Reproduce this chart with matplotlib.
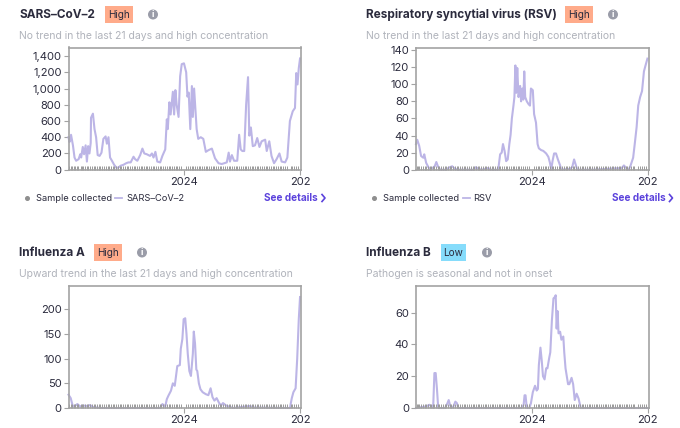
import matplotlib.pyplot as plt
from matplotlib.patches import Circle, Rectangle

plt.rcParams['font.family'] = ['Inter', 'DejaVu Sans']

# x values are days since 2023-01-01
sars_days = [0, 3, 8, 14, 19, 24, 32, 37, 40, 45, 49, 54, 58, 62, 66, 70, 71, 77, 82, 87, 92, 98, 104, 110, 117,
             121, 126, 131, 137, 144, 152, 158, 165, 173, 182, 189, 196, 205, 210, 217, 226, 233, 239, 247, 257,
             263, 268, 274, 280, 289, 296, 305, 310, 313, 318, 322, 329, 333, 337, 341, 347, 352, 357, 364, 371,
             375, 379, 384, 389, 392, 396, 400, 404, 409, 417, 425, 433, 441, 452, 462, 473, 483, 499, 505, 509,
             515, 522, 532, 538, 543, 548, 554, 560, 566, 570, 575, 581, 588, 595, 602, 609, 620, 625, 633, 640,
             648, 656, 665, 672, 683, 690, 698, 707, 714, 718, 722, 726, 730]
sars_vals = [400, 340, 430, 300, 150, 110, 130, 190, 150, 280, 190, 300, 100, 290, 200, 330, 640, 690, 500, 400,
             180, 170, 210, 380, 410, 320, 400, 150, 110, 60, 20, 30, 50, 60, 80, 90, 90, 160, 130, 110, 180, 260,
             200, 190, 170, 200, 150, 220, 100, 90, 170, 250, 620, 500, 830, 680, 960, 680, 980, 800, 650, 1150,
             1300, 1310, 1200, 900, 950, 500, 1030, 650, 1000, 750, 500, 380, 400, 380, 220, 240, 260, 140, 80, 70,
             90, 210, 100, 180, 110, 110, 430, 250, 230, 230, 800, 1140, 420, 520, 290, 300, 390, 280, 350, 370,
             230, 350, 170, 80, 130, 200, 100, 90, 150, 600, 720, 760, 1190, 1050, 1250, 1370]

rsv_days = [0, 4, 10, 16, 23, 26, 32, 39, 46, 52, 59, 64, 69, 76, 95, 102, 107, 114, 123, 133, 181, 189, 196, 207,
            228, 233, 259, 265, 270, 274, 279, 284, 289, 294, 298, 302, 307, 310, 313, 316, 319, 323, 328, 331, 335,
            338, 341, 344, 349, 354, 359, 362, 368, 372, 378, 383, 387, 394, 401, 410, 417, 422, 426, 430, 435, 441,
            447, 454, 457, 485, 492, 498, 503, 508, 559, 648, 655, 662, 670, 676, 684, 689, 695, 700, 706, 712, 718,
            723, 729]
rsv_vals = [30, 35, 28, 16, 14, 18, 8, 3, 0, 2, 4, 9, 4, 0, 0, 2, 3, 4, 1, 0, 0, 3, 1, 0, 2, 0, 0, 18, 20, 30, 22,
            10, 12, 30, 41, 60, 75, 85, 122, 90, 119, 85, 98, 80, 95, 82, 115, 85, 80, 77, 75, 95, 93, 65, 55, 30,
            25, 23, 22, 19, 15, 8, 0, 10, 19, 19, 12, 5, 0, 1, 3, 12, 6, 0, 0, 2, 5, 2, 0, 5, 14, 30, 50, 75, 85,
            92, 115, 122, 130]

flu_a_days = [0, 7, 13, 18, 28, 37, 45, 60, 68, 77, 100, 289, 296, 305, 310, 315, 323, 329, 335, 343, 351, 354, 359,
              363, 368, 372, 376, 381, 386, 392, 395, 399, 403, 406, 411, 416, 423, 433, 441, 448, 454, 460, 467,
              475, 481, 487, 497, 509, 520, 572, 583, 693, 698, 704, 709, 716, 721, 726, 730]
flu_a_vals = [27, 20, 5, 3, 8, 3, 5, 4, 6, 2, 0, 0, 8, 3, 18, 25, 35, 50, 45, 85, 87, 120, 140, 180, 182, 150, 110,
              75, 65, 110, 155, 130, 78, 75, 50, 38, 32, 28, 26, 40, 22, 15, 20, 10, 5, 10, 5, 2, 0, 4, 1, 0, 0, 20,
              32, 40, 100, 180, 225]

flu_b_days = [0, 32, 42, 49, 54, 58, 62, 66, 70, 92, 99, 103, 107, 112, 118, 124, 129, 133, 333, 339, 342, 345, 349,
              357, 362, 368, 375, 380, 384, 387, 392, 396, 400, 405, 410, 414, 420, 423, 428, 433, 438, 440, 443,
              446, 449, 454, 458, 464, 467, 471, 479, 483, 490, 495, 500, 506, 512, 519, 730]
flu_b_vals = [0, 1, 2, 1, 0, 22, 22, 12, 0, 0, 3, 5, 2, 0, 1, 4, 3, 0, 0, 2, 8, 8, 0, 0, 3, 10, 14, 11, 12, 27, 38,
              30, 20, 18, 25, 25, 32, 35, 55, 69, 70, 71, 50, 61, 47, 48, 43, 45, 35, 25, 15, 15, 19, 15, 5, 9, 6,
              0, 0]

sample_days = [2, 7, 11, 16, 22, 27, 31, 38, 43, 47, 53, 58, 63, 68, 74, 79, 84, 90, 96, 100, 106, 111, 117, 123,
               128, 133, 139, 145, 150, 155, 161, 166, 172, 178, 183, 189, 194, 199, 205, 211, 216, 222, 227, 232,
               238, 244, 249, 254, 260, 266, 271, 277, 283, 288, 293, 299, 304, 310, 316, 321, 326, 332, 338, 343,
               349, 355, 372, 377, 383, 388, 394, 399, 405, 410, 416, 421, 427, 433, 438, 444, 449, 455, 460, 466,
               472, 477, 482, 488, 494, 499, 505, 510, 516, 522, 527, 532, 538, 544, 549, 555, 560, 566, 571, 577,
               583, 588, 594, 599, 605, 610, 616, 622, 627, 632, 638, 644, 649, 655, 660, 666, 671, 677, 683, 688,
               700, 706, 712, 718, 723]

titles = ['SARS\u2013CoV\u20132', 'Respiratory syncytial virus (RSV)', 'Influenza A', 'Influenza B']
subtitles = ['No trend in the last 21 days and high concentration',
             'No trend in the last 21 days and high concentration',
             'Upward trend in the last 21 days and high concentration',
             'Pathogen is seasonal and not in onset']
levels = ['High', 'High', 'High', 'Low']
legend_names = ['SARS\u2013CoV\u20132', 'RSV', None, None]
y_ticks = [[0, 200, 400, 600, 800, 1000, 1200, 1400], [0, 20, 40, 60, 80, 100, 120, 140],
           [0, 50, 100, 150, 200], [0, 20, 40, 60]]
y_tops = [1505, 143, 248, 77]
x_ticks = [365, 730]
x_tick_labels = ['2024', '202']
all_days = [sars_days, rsv_days, flu_a_days, flu_b_days]
all_vals = [sars_vals, rsv_vals, flu_a_vals, flu_b_vals]

W, H = 680, 428
LEVEL_COLORS = {'High': '#ffab8a', 'Low': '#86dcfb'}
TEXT = '#2b2b3d'
GREY = '#b0b3bb'
LINE = '#bcb5e6'
AXIS = '#a3a3a3'
LINK = '#5b42dc'

# pixel layout: text left, axes left/right/top/bottom, badge left/right, icon x, title y
layout = [
    (19, 68.5, 301, 47.5, 169.7, 105, 133, 153, 15),
    (366.5, 416, 648.7, 47.5, 169.7, 565, 593, 613, 15),
    (19, 68.5, 301, 285.7, 408, 94, 122, 142, 253),
    (366.5, 416, 648.7, 285.7, 408, 441, 466, 487, 253),
]

fig = plt.figure(figsize=(W / 100, H / 100), dpi=100)
page = fig.add_axes([0, 0, 1, 1])
page.set_xlim(0, W)
page.set_ylim(H, 0)
page.axis('off')

for i, (tx, left, right, top, bottom, b0, b1, icon, ty) in enumerate(layout):
    ax = fig.add_axes([left / W, 1 - bottom / H, (right - left) / W, (bottom - top) / H])
    ax.plot(all_days[i], all_vals[i], color=LINE, lw=1.5, solid_joinstyle='round', clip_on=False)
    ax.plot(sample_days, [0] * len(sample_days), ls='', marker=2, ms=3.2, mew=0.7, color='#9a9a9a')
    ax.set_xlim(0, 733)
    ax.set_ylim(0, y_tops[i])
    ax.set_xticks(x_ticks)
    ax.set_xticklabels(x_tick_labels)
    ax.set_yticks(y_ticks[i])
    ax.set_yticklabels([f'{v:,}' for v in y_ticks[i]])
    ax.tick_params(labelsize=8, colors=AXIS, labelcolor=TEXT, length=3.5, width=0.8, pad=1.5)
    for spine in ax.spines.values():
        spine.set_color(AXIS)
        spine.set_linewidth(1.2)

    page.text(tx, ty, titles[i], fontsize=8.5, fontweight='bold', color=TEXT, va='center')
    page.text(tx, ty + 21, subtitles[i], fontsize=7.5, color=GREY, va='center')
    page.add_patch(Rectangle((b0, ty - 9), b1 - b0, 17, fc=LEVEL_COLORS[levels[i]], ec='none'))
    page.text((b0 + b1) / 2, ty, levels[i], fontsize=7.2, color=TEXT, ha='center', va='center')
    page.add_patch(Circle((icon, ty - 0.5), 5, fc='#9a9ca8', ec='none'))
    page.text(icon, ty - 0.5, 'i', fontsize=6.5, fontweight='bold', color='white', ha='center', va='center')

    if legend_names[i]:
        page.plot([tx + 7.5], [198], marker='o', ms=2.6, color='#8f8f8f')
        page.text(tx + 16.5, 198, 'Sample collected', fontsize=6.7, color=TEXT, va='center')
        page.plot([tx + 96, tx + 103], [198, 198], color=LINE, lw=1.3)
        page.text(tx + 107, 198, legend_names[i], fontsize=6.7, color=TEXT, va='center')
        page.text(tx + 299, 198, 'See details', fontsize=7.2, fontweight='bold', color=LINK, ha='right', va='center')
        page.plot([tx + 303, tx + 306, tx + 303], [194.5, 198, 201.5], color=LINK, lw=1.2)

page.set_xlim(0, W)
page.set_ylim(H, 0)
fig.savefig('out.png', dpi=100)
